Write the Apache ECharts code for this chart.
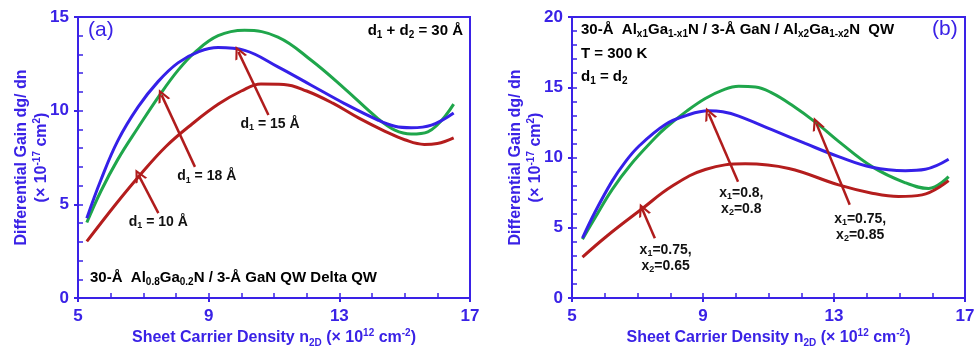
<!DOCTYPE html>
<html>
<head>
<meta charset="utf-8">
<script src="https://cdn.jsdelivr.net/npm/echarts@6/dist/echarts.min.js"></script>
<style>
html, body { margin: 0; padding: 0; background: #fff; }
#main { width: 974px; height: 346px; }
</style>
</head>
<body>
<div id="main"></div>
<script>
// panel (a): d1 + d2 = 30 A
var xA_d15 = [5.27, 5.7, 6.22, 6.84, 7.5, 8.06, 8.57, 9.29, 10.1, 11.12, 12.14, 13.16, 14.18, 14.7, 15.2, 15.71, 16.5];
var yA_d15 = [4.03, 5.7, 7.4, 9.1, 10.83, 12.15, 13.1, 14.0, 14.29, 13.93, 12.69, 11.18, 9.58, 8.96, 8.75, 8.87, 10.35];
var xA_d18 = [5.27, 5.7, 6.22, 6.84, 7.45, 8.06, 8.7, 9.29, 10.1, 11.12, 12.14, 13.16, 14.18, 14.7, 15.2, 15.82, 16.5];
var yA_d18 = [4.26, 6.3, 8.4, 10.2, 11.55, 12.55, 13.15, 13.37, 13.22, 12.34, 11.36, 10.38, 9.5, 9.17, 9.09, 9.23, 9.88];
var xA_d10 = [5.27, 6.18, 6.9, 7.7, 8.5, 9.3, 10.0, 10.6, 11.3, 12.0, 12.8, 13.6, 14.4, 15.0, 15.6, 16.0, 16.5];
var yA_d10 = [3.02, 5.06, 6.57, 8.1, 9.3, 10.35, 11.05, 11.42, 11.4, 11.05, 10.4, 9.6, 8.9, 8.45, 8.2, 8.25, 8.55];

// panel (b): d1 = d2
var xB_80_80 = [5.32, 5.7, 6.22, 6.6, 7.04, 7.85, 8.5, 9.17, 9.6, 10.09, 11.1, 12.12, 13.14, 14.16, 15.18, 15.79, 16.5];
var yB_80_80 = [4.26, 6.1, 8.3, 9.6, 10.8, 12.35, 13.0, 13.32, 13.25, 12.95, 11.98, 11.0, 10.06, 9.3, 9.06, 9.16, 9.87];
var xB_75_85 = [5.32, 5.7, 6.22, 6.76, 7.54, 7.85, 8.5, 9.07, 9.6, 10.09, 10.6, 11.1, 11.7, 12.48, 13.14, 14.16, 15.18, 15.89, 16.5];
var yB_75_85 = [4.19, 5.7, 7.7, 9.4, 11.4, 12.1, 13.3, 14.2, 14.8, 15.07, 15.02, 14.6, 13.75, 12.43, 11.15, 9.35, 8.2, 7.8, 8.64];
var xB_75_65 = [5.32, 6.05, 7.14, 8.05, 9.07, 10.29, 11.62, 13.14, 14.16, 14.97, 15.69, 16.5];
var yB_75_65 = [2.91, 4.38, 6.35, 7.95, 9.15, 9.55, 9.22, 8.05, 7.46, 7.22, 7.34, 8.35];

// tick labels
var xTicks = [5, 9, 13, 17];
var yTicksA = [0, 5, 10, 15];
var yTicksB = [0, 5, 10, 15, 20];

var BLUE = '#3a22e6';
var LBLUE = '#3520e8';
var GREEN = '#1fa64b';
var RED = '#b41d1d';
var ARROW = '#b01c1c';
var FONT = 'Arial, "Liberation Sans", sans-serif';
// open "V" arrow head, tip at the top
var CHEVRON = 'path://M0,10 L5,0 L10,10 L8.2,10 L5,3.6 L1.8,10 Z';

function pairs(xs, ys) {
	var out = [];
	for (var i = 0; i < xs.length; i++) {
		out.push([xs[i], ys[i]]);
	}
	return out;
}

var rich = {
	t: { fontFamily: FONT, fontWeight: 'bold', fontSize: 16, color: BLUE, lineHeight: 20 },
	sub: { fontFamily: FONT, fontWeight: 'bold', fontSize: 10, color: BLUE, verticalAlign: 'bottom', lineHeight: 12 },
	sup: { fontFamily: FONT, fontWeight: 'bold', fontSize: 10, color: BLUE, verticalAlign: 'top', lineHeight: 12 }
};

var annRich = {
	t: { fontFamily: FONT, fontWeight: 'bold', fontSize: 14, color: '#111', lineHeight: 16 },
	sub: { fontFamily: FONT, fontWeight: 'bold', fontSize: 9, color: '#111', verticalAlign: 'bottom', lineHeight: 10 }
};

var titleRich = {
	t: { fontFamily: FONT, fontWeight: 'bold', fontSize: 15, color: BLUE, lineHeight: 20 },
	sub: { fontFamily: FONT, fontWeight: 'bold', fontSize: 10, color: BLUE, verticalAlign: 'bottom', lineHeight: 12 },
	k: { fontFamily: FONT, fontWeight: 'bold', fontSize: 15, color: '#111', lineHeight: 20 }
};

function mainX(gi) {
	return {
		type: 'value', gridIndex: gi, min: 5, max: 17, interval: 1,
		name: '{t|Sheet Carrier Density n}{sub|2D}{t| (× 10}{sup|12}{t| cm}{sup|-2}{t|)}',
		nameLocation: 'middle', nameGap: 30, nameMoveOverlap: false,
		nameTextStyle: { rich: rich },
		axisLine: { lineStyle: { color: BLUE, width: 2 } },
		axisTick: { customValues: xTicks, inside: false, length: 4, lineStyle: { color: BLUE, width: 2 } },
		axisLabel: { customValues: xTicks, color: BLUE, fontSize: 17, fontWeight: 'bold', fontFamily: FONT, margin: 10 },
		splitLine: { show: false }
	};
}

function minorX(gi) {
	return {
		type: 'value', gridIndex: gi, min: 5, max: 17, interval: 1, position: 'bottom',
		axisLine: { show: false },
		axisTick: { inside: true, length: 5, lineStyle: { color: BLUE, width: 1.5 } },
		axisLabel: { show: false },
		splitLine: { show: false }
	};
}

function mainY(gi, max, ticks) {
	return {
		type: 'value', gridIndex: gi, min: 0, max: max, interval: 1,
		name: '{t|Differential Gain dg/ dn}\n{t|(× 10}{sup|-17}{t| cm}{sup|2}{t|)}',
		nameLocation: 'middle', nameGap: 26, nameRotate: 90, nameMoveOverlap: false,
		nameTextStyle: { rich: rich, align: 'center' },
		axisLine: { lineStyle: { color: BLUE, width: 2 } },
		axisTick: { customValues: ticks, inside: false, length: 4, lineStyle: { color: BLUE, width: 2 } },
		axisLabel: { customValues: ticks, color: BLUE, fontSize: 17, fontWeight: 'bold', fontFamily: FONT, margin: 9 },
		splitLine: { show: false }
	};
}

function minorY(gi, max) {
	return {
		type: 'value', gridIndex: gi, min: 0, max: max, interval: 1, position: 'left',
		axisLine: { show: false },
		axisTick: { inside: true, length: 5, lineStyle: { color: BLUE, width: 1.5 } },
		axisLabel: { show: false },
		splitLine: { show: false }
	};
}

function curve(name, gi, xs, ys, color) {
	return {
		name: name, type: 'line', xAxisIndex: gi * 2, yAxisIndex: gi * 2,
		data: pairs(xs, ys), smooth: 0.4, showSymbol: false, symbol: 'none',
		lineStyle: { color: color, width: 3 }, z: 3
	};
}

function arrows(list) {
	return {
		silent: true, symbol: ['none', CHEVRON], symbolSize: 13,
		lineStyle: { color: ARROW, width: 2.5, type: 'solid' },
		itemStyle: { color: ARROW },
		label: { show: false },
		data: list.map(function(a) {
			return [{ coord: [a[0], a[1]] }, { coord: [a[2], a[3]] }];
		})
	};
}

function notes(list) {
	return {
		silent: true, symbol: 'circle', symbolSize: 0,
		label: { show: true, position: 'inside', rich: annRich, align: 'center' },
		data: list.map(function(n) {
			return { coord: [n[0], n[1]], value: 0, label: { formatter: n[2] } };
		})
	};
}

var myChart = echarts.init(document.getElementById('main'));

var sA10 = curve('d1 = 10 A', 0, xA_d10, yA_d10, RED);
sA10.markLine = arrows([
	[10.83, 9.77, 9.91, 13.14],
	[8.58, 7.0, 7.56, 10.83],
	[7.46, 4.53, 6.85, 6.57]
]);
sA10.markPoint = notes([
	[10.88, 9.29, '{t|d}{sub|1}{t| = 15 Å}'],
	[8.94, 6.48, '{t|d}{sub|1}{t| = 18 Å}'],
	[7.46, 4.03, '{t|d}{sub|1}{t| = 10 Å}']
]);

var sB65 = curve('x1=0.75, x2=0.65', 1, xB_75_65, yB_75_65, RED);
sB65.markLine = arrows([
	[10.07, 8.28, 9.17, 13.14],
	[13.48, 6.63, 12.46, 12.43],
	[7.53, 4.26, 7.15, 6.3]
]);
sB65.markPoint = notes([
	[10.17, 6.91, '{t|x}{sub|1}{t|=0.8,}\n{t|x}{sub|2}{t|=0.8}'],
	[13.8, 5.06, '{t|x}{sub|1}{t|=0.75,}\n{t|x}{sub|2}{t|=0.85}'],
	[7.86, 2.83, '{t|x}{sub|1}{t|=0.75,}\n{t|x}{sub|2}{t|=0.65}']
]);

var option = {
	animation: false,
	backgroundColor: '#fff',
	grid: [
		{ left: 78, top: 17, width: 392, height: 281, show: true, borderColor: BLUE, borderWidth: 2, outerBoundsMode: 'none' },
		{ left: 572, top: 17, width: 393, height: 281, show: true, borderColor: BLUE, borderWidth: 2, outerBoundsMode: 'none' }
	],
	xAxis: [mainX(0), minorX(0), mainX(1), minorX(1)],
	yAxis: [mainY(0, 15, yTicksA), minorY(0, 15), mainY(1, 20, yTicksB), minorY(1, 20)],
	graphic: [
		{ type: 'text', left: 88, top: 20, silent: true,
		  style: { text: '(a)', font: '21px ' + FONT, fill: BLUE } },
		{ type: 'text', right: 511, top: 23, silent: true,
		  style: { text: '{t|d}{sub|1}{t| + d}{sub|2}{t| = 30 Å}', rich: titleRich } },
		{ type: 'text', left: 90, top: 270, silent: true,
		  style: { text: '{t|30-Å  Al}{sub|0.8}{t|Ga}{sub|0.2}{t|N / 3-Å GaN QW }{k|Delta QW}', rich: titleRich } },
		{ type: 'text', left: 581, top: 22, silent: true,
		  style: { text: '{t|30-Å  Al}{sub|x1}{t|Ga}{sub|1-x1}{t|N / 3-Å GaN / Al}{sub|x2}{t|Ga}{sub|1-x2}{t|N  QW}', rich: titleRich } },
		{ type: 'text', left: 581, top: 46, silent: true,
		  style: { text: '{t|T = 300 K}', rich: titleRich } },
		{ type: 'text', left: 581, top: 69, silent: true,
		  style: { text: '{t|d}{sub|1}{t| = d}{sub|2}', rich: titleRich } },
		{ type: 'text', left: 932, top: 19, silent: true,
		  style: { text: '(b)', font: '21px ' + FONT, fill: BLUE } }
	],
	series: [
		curve('d1 = 15 A', 0, xA_d15, yA_d15, GREEN),
		curve('d1 = 18 A', 0, xA_d18, yA_d18, LBLUE),
		sA10,
		curve('x1=0.75, x2=0.85', 1, xB_75_85, yB_75_85, GREEN),
		curve('x1=0.8, x2=0.8', 1, xB_80_80, yB_80_80, LBLUE),
		sB65
	]
};
myChart.setOption(option);
</script>
</body>
</html>
